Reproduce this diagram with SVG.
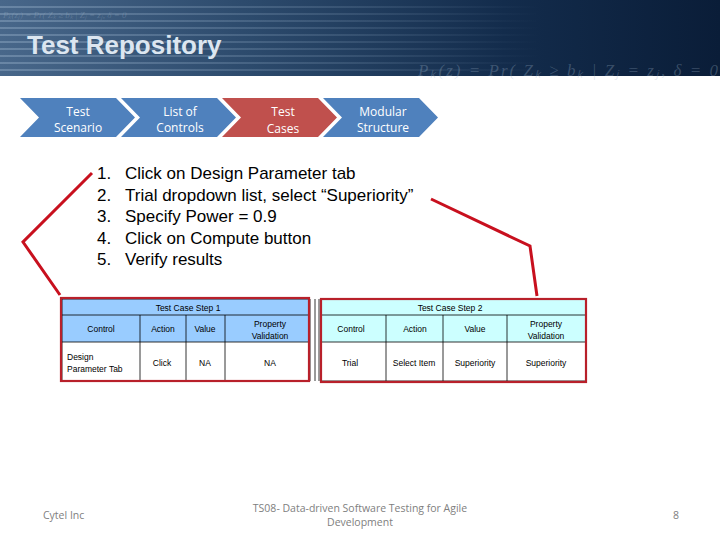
<svg xmlns="http://www.w3.org/2000/svg" width="720" height="540" viewBox="0 0 720 540">
<defs>
<linearGradient id="bg" x1="0" y1="0" x2="1" y2="0">
<stop offset="0" stop-color="#48678a"/>
<stop offset="0.35" stop-color="#2c4a6c"/>
<stop offset="0.7" stop-color="#132c4c"/>
<stop offset="1" stop-color="#0a1d38"/>
</linearGradient>
<linearGradient id="stripe" x1="0" y1="0" x2="1" y2="0">
<stop offset="0" stop-color="#a8c0d8" stop-opacity="0.35"/>
<stop offset="0.5" stop-color="#a8c0d8" stop-opacity="0.15"/>
<stop offset="0.75" stop-color="#a8c0d8" stop-opacity="0"/>
</linearGradient>
<style>
.chev{stroke:none}
.ctext{font-family:"Open Sans","Liberation Sans",sans-serif;font-size:12px;fill:#ffffff;text-anchor:middle}
.item{font-family:"Liberation Sans",Arial,sans-serif;font-size:17px;fill:#000}
.t{font-family:"Liberation Sans",Arial,sans-serif;font-size:8.5px;fill:#000;text-anchor:middle}
.tl{font-family:"Liberation Sans",Arial,sans-serif;font-size:8.5px;fill:#000}
.grid{stroke:#000;stroke-width:0.8;fill:none}
.redbox{stroke:#b8202a;stroke-width:2.2;fill:none}
.redline{stroke:#c8101e;stroke-width:3;fill:none;stroke-linejoin:miter}
.foot{font-family:"Open Sans","Liberation Sans",sans-serif;font-size:10.5px;fill:#808080}
</style>
</defs>
<rect width="720" height="540" fill="#ffffff"/>
<g id="banner">
<rect x="0" y="0" width="720" height="76" fill="url(#bg)"/>
<g fill="url(#stripe)">
<rect x="0" y="6" width="720" height="2"/>
<rect x="0" y="13" width="720" height="2"/>
<rect x="0" y="20" width="720" height="2"/>
<rect x="0" y="27" width="720" height="2"/>
<rect x="0" y="34" width="720" height="2"/>
<rect x="0" y="41" width="720" height="2"/>
<rect x="0" y="48" width="720" height="2"/>
<rect x="0" y="55" width="720" height="2"/>
<rect x="0" y="62" width="720" height="2"/>
<rect x="0" y="69" width="720" height="2"/>
</g>
<text x="3" y="18" font-family="Liberation Serif,serif" font-size="9" fill="#9fb4c8" fill-opacity="0.3" font-style="italic">Pₖ(zⱼ) = Pr( Zₖ ≥ bₖ | Zⱼ = zⱼ, δ = 0</text>
<text x="418" y="76" font-family="Liberation Serif,serif" font-size="17" fill="#9fb4c8" fill-opacity="0.3" font-style="italic" textLength="300">Pₖ(z) = Pr( Zₖ ≥ bₖ | Zⱼ = zⱼ, δ = 0</text>
<text x="27" y="54" font-family="Liberation Sans,Arial,sans-serif" font-size="26" font-weight="bold" fill="#dce6f0">Test Repository</text>
</g>
<g id="chevron-test-scenario">
<polygon class="chev" fill="#4f81bd" points="20,98 116,98 135,117.5 116,137 20,137 39,117.5"/>
<text class="ctext" x="78" y="116">Test</text>
<text class="ctext" x="78" y="132">Scenario</text>
</g>
<g id="chevron-list-of-controls">
<polygon class="chev" fill="#4f81bd" points="121,98 217,98 236,117.5 217,137 121,137 140,117.5"/>
<text class="ctext" x="180" y="116">List of</text>
<text class="ctext" x="180" y="132">Controls</text>
</g>
<g id="chevron-test-cases">
<polygon class="chev" fill="#c0504d" points="222,98 318,98 337,117.5 318,137 222,137 241,117.5"/>
<text class="ctext" x="283" y="116">Test</text>
<text class="ctext" x="283" y="133">Cases</text>
</g>
<g id="chevron-modular-structure">
<polygon class="chev" fill="#4f81bd" points="323,98 419,98 438,117.5 419,137 323,137 342,117.5"/>
<text class="ctext" x="383" y="116">Modular</text>
<text class="ctext" x="383" y="132">Structure</text>
</g>
<g id="steps">
<text class="item" x="97" y="179">1.</text><text class="item" x="125" y="179">Click on Design Parameter tab</text>
<text class="item" x="97" y="201">2.</text><text class="item" x="125" y="201">Trial dropdown list, select “Superiority”</text>
<text class="item" x="97" y="222">3.</text><text class="item" x="125" y="222">Specify Power = 0.9</text>
<text class="item" x="97" y="244">4.</text><text class="item" x="125" y="244">Click on Compute button</text>
<text class="item" x="97" y="265">5.</text><text class="item" x="125" y="265">Verify results</text>
</g>
<g id="table-step-1">
<rect x="62" y="299" width="248" height="43" fill="#99ccff"/>
<rect x="62" y="342" width="248" height="39" fill="#ffffff"/>
<path class="grid" d="M62,299H310V381H62Z M62,315H310 M62,342H310 M140,315V381 M186,315V381 M225,315V381"/>
<text class="t" x="188" y="311">Test Case Step 1</text>
<text class="t" x="101" y="332">Control</text>
<text class="t" x="163" y="332">Action</text>
<text class="t" x="205" y="332">Value</text>
<text class="t" x="270" y="327">Property</text>
<text class="t" x="270" y="339">Validation</text>
<text class="tl" x="67" y="360">Design</text>
<text class="tl" x="67" y="372">Parameter  Tab</text>
<text class="t" x="162" y="366">Click</text>
<text class="t" x="205" y="366">NA</text>
<text class="t" x="270" y="366">NA</text>
<rect class="redbox" x="61" y="298" width="248" height="83"/>
</g>
<g id="table-step-2">
<rect x="320" y="299" width="266" height="43" fill="#ccffff"/>
<rect x="320" y="342" width="266" height="39" fill="#ffffff"/>
<path class="grid" d="M315,299V381 M319,299V381 M320,299H586V381H320 M320,315H586 M320,342H586 M386,315V381 M443,315V381 M507,315V381"/>
<text class="t" x="450" y="311">Test Case Step 2</text>
<text class="t" x="351" y="332">Control</text>
<text class="t" x="415" y="332">Action</text>
<text class="t" x="475" y="332">Value</text>
<text class="t" x="546" y="327">Property</text>
<text class="t" x="546" y="339">Validation</text>
<text class="t" x="350" y="366">Trial</text>
<text class="t" x="414" y="366">Select Item</text>
<text class="t" x="475" y="366">Superiority</text>
<text class="t" x="546" y="366">Superiority</text>
<rect class="redbox" x="321" y="299" width="265" height="83"/>
</g>
<g id="connectors">
<polyline class="redline" points="92,173 23,242 60,295"/>
<polyline class="redline" points="431,199 530,246 537,296"/>
</g>
<g id="footer">
<text class="foot" x="43" y="519">Cytel Inc</text>
<text class="foot" x="360" y="512" text-anchor="middle">TS08- Data-driven Software Testing for Agile</text>
<text class="foot" x="360" y="526" text-anchor="middle">Development</text>
<text class="foot" x="673" y="519">8</text>
</g>
</svg>
